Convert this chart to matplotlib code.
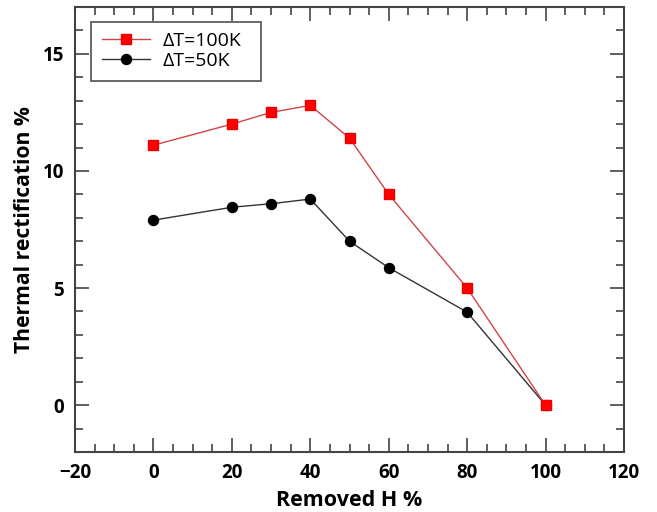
import matplotlib
matplotlib.use("Agg")
import matplotlib.pyplot as plt
from matplotlib.ticker import MultipleLocator

removed_h = [0, 20, 30, 40, 50, 60, 80, 100]
tr_100k = [11.1, 12.0, 12.5, 12.8, 11.4, 9.0, 5.0, 0.0]
tr_50k = [7.9, 8.45, 8.6, 8.8, 7.0, 5.87, 3.97, 0.0]
label_100k = "ΔT=100K"
label_50k = "ΔT=50K"

plt.rcParams['font.family'] = ['Open Sans', 'DejaVu Sans']

fig = plt.figure(figsize=(6.57, 5.12), dpi=100)
ax = fig.add_axes([75/657, 60/512, 549/657, 445/512])

ax.plot(removed_h, tr_50k, color='#333333', lw=1.0, marker='o', ms=7.2,
        mfc='black', mec='black', label=label_50k, zorder=3)
ax.plot(removed_h, tr_100k, color='#d04545', lw=1.0, marker='s', ms=7.5,
        mfc='#ff0000', mec='#ee0000', label=label_100k, zorder=4)

ax.set_xlim(-20, 120)
ax.set_ylim(-2, 17)
ax.xaxis.set_major_locator(MultipleLocator(20))
ax.xaxis.set_minor_locator(MultipleLocator(5))
ax.yaxis.set_major_locator(MultipleLocator(5))
ax.yaxis.set_minor_locator(MultipleLocator(1))
ax.tick_params(which='both', direction='in', top=True, right=True,
               color='#444444', width=1.2)
ax.tick_params(which='major', length=10, labelsize=13.5, pad=8)
ax.tick_params(which='minor', length=6)
for lab in ax.get_xticklabels() + ax.get_yticklabels():
    lab.set_fontweight('bold')
for s in ax.spines.values():
    s.set_color('#444444')
    s.set_linewidth(1.5)

ax.set_xlabel('Removed H %', fontsize=15.5, fontweight='bold', labelpad=5)
ax.set_ylabel('Thermal rectification %', fontsize=15.2, fontweight='bold', labelpad=5)

handles, labels = ax.get_legend_handles_labels()
leg = ax.legend(handles[::-1], labels[::-1], loc='upper left',
                bbox_to_anchor=(16/549, 1 - 15/445, 170/549, 0.001), mode='expand',
                fontsize=14, frameon=True, fancybox=False, edgecolor='#222222',
                handlelength=2.5, borderpad=0.55, labelspacing=0.1,
                handletextpad=0.65, borderaxespad=0)
leg.get_frame().set_linewidth(1.2)

fig.savefig('out.png', dpi=100)
